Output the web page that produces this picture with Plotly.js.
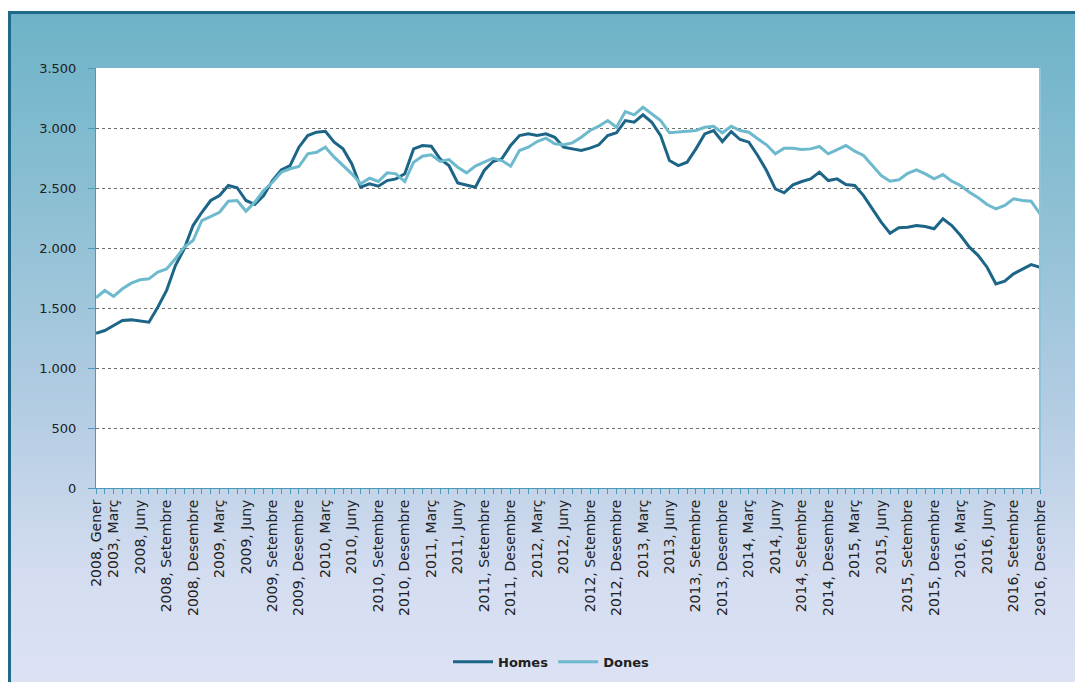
<!DOCTYPE html>
<html>
<head>
<meta charset="utf-8">
<script src="https://cdn.plot.ly/plotly-3.0.1.min.js"></script>
<style>
  html, body { margin: 0; padding: 0; background: #ffffff; }
  #frame {
    position: absolute; left: 8px; top: 11px; width: 1067px; height: 671px;
    box-sizing: border-box;
    border-top: 3px solid #1f6a8a; border-left: 3px solid #1f6a8a;
    background: linear-gradient(to bottom, #6db3c7 0%, #8fc0d4 30%, #b4cde3 60%, #d5ddf1 85%, #dce2f4 100%);
  }
  #chart { position: absolute; left: 0; top: 0; width: 1075px; height: 682px; }
</style>
</head>
<body>
<div id="frame"></div>
<div id="chart"></div>
<script>
const years = [2008, 2009, 2010, 2011, 2012, 2013, 2014, 2015, 2016];
const monthNames = ['Gener','Febrer','Març','Abril','Maig','Juny','Juliol','Agost','Setembre','Octubre','Novembre','Desembre'];
const categories = [];
years.forEach(y => monthNames.forEach(m => categories.push(y + ', ' + m)));

// Labels shown: first month, then every quarter-end month (Març, Juny, Setembre, Desembre)
const tickLabels = [
  '2008, Gener','2003, Març','2008, Juny','2008, Setembre','2008, Desembre',
  '2009, Març','2009, Juny','2009, Setembre','2009, Desembre',
  '2010, Març','2010, Juny','2010, Setembre','2010, Desembre',
  '2011, Març','2011, Juny','2011, Setembre','2011, Desembre',
  '2012, Març','2012, Juny','2012, Setembre','2012, Desembre',
  '2013, Març','2013, Juny','2013, Setembre','2013, Desembre',
  '2014, Març','2014, Juny','2014, Setembre','2014, Desembre',
  '2015, Març','2015, Juny','2015, Setembre','2015, Desembre',
  '2016, Març','2016, Juny','2016, Setembre','2016, Desembre'
];

const homes = [
  1290,1312,1354,1396,1401,1390,1382,1507,1646,1854,1993,2187,
  2298,2396,2437,2521,2502,2396,2362,2437,2562,2651,2687,2840,
  2937,2965,2973,2882,2826,2701,2507,2535,2515,2562,2576,2618,
  2826,2854,2848,2743,2687,2543,2526,2507,2646,2721,2743,2854,
  2937,2951,2937,2951,2923,2840,2826,2812,2832,2860,2937,2960,
  3062,3048,3110,3048,2937,2729,2687,2715,2826,2951,2979,2887,
  2970,2904,2882,2771,2646,2493,2460,2526,2554,2576,2632,2562,
  2576,2529,2521,2437,2326,2215,2123,2168,2173,2187,2179,2160,
  2243,2187,2104,2007,1937,1840,1701,1723,1785,1826,1862,1840
];

const dones = [
  1585,1646,1596,1660,1707,1735,1743,1799,1826,1910,2007,2062,
  2229,2262,2298,2390,2396,2307,2382,2479,2548,2632,2660,2679,
  2785,2798,2840,2757,2687,2618,2535,2582,2554,2626,2618,2554,
  2715,2765,2776,2721,2737,2673,2626,2682,2715,2748,2729,2682,
  2812,2840,2887,2915,2868,2860,2876,2923,2979,3015,3062,3006,
  3137,3110,3173,3118,3062,2960,2965,2970,2979,3006,3015,2960,
  3015,2979,2965,2910,2860,2785,2832,2832,2821,2826,2846,2785,
  2818,2854,2807,2771,2687,2604,2557,2568,2623,2651,2618,2576,
  2612,2557,2521,2465,2418,2362,2326,2354,2410,2396,2390,2285
];

const yTicks = [0, 500, 1000, 1500, 2000, 2500, 3000, 3500];

const tickText = categories.map((c, i) => {
  if (i === 0) return tickLabels[0];
  if (i % 3 === 2) return tickLabels[(i + 1) / 3];
  return '';
});

const axisColor = '#4a9bbb';
const fontFam = 'DejaVu Sans, Verdana, sans-serif';

const traces = [
  { x: categories, y: homes, type: 'scatter', mode: 'lines', name: 'Homes',
    line: { color: '#1d6587', width: 3 } },
  { x: categories, y: dones, type: 'scatter', mode: 'lines', name: 'Dones',
    line: { color: '#6db9cd', width: 3 } }
];

const layout = {
  width: 1075, height: 682,
  paper_bgcolor: 'rgba(0,0,0,0)',
  plot_bgcolor: '#ffffff',
  separators: ',.',
  margin: { l: 96, r: 35, t: 68, b: 194, autoexpand: false },
  font: { family: fontFam, size: 13, color: '#222222' },
  showlegend: true,
  legend: {
    orientation: 'h', x: 0.482, xanchor: 'center', y: -0.414, yanchor: 'middle',
    font: { family: fontFam, size: 13, color: '#222222', weight: 'bold' },
    bgcolor: 'rgba(0,0,0,0)', itemwidth: 40, traceorder: 'normal'
  },
  xaxis: {
    type: 'category',
    range: [0, categories.length - 1],
    tickmode: 'array', tickvals: categories, ticktext: tickText,
    tickangle: -90,
    ticklabeloverflow: 'allow',
    ticks: 'outside', ticklen: 5, tickcolor: axisColor, tickwidth: 1,
    showline: true, linecolor: axisColor, linewidth: 1,
    showgrid: false, zeroline: false,
    tickfont: { family: fontFam, size: 14, color: '#222222' },
    automargin: false
  },
  yaxis: {
    range: [0, 3500],
    tickmode: 'array', tickvals: yTicks, tickformat: ',d',
    ticks: 'outside', ticklen: 7, tickcolor: axisColor,
    ticklabelstandoff: 9,
    showline: true, linecolor: axisColor, linewidth: 1,
    showgrid: true, gridcolor: '#6e6e6e', griddash: 'dot', gridwidth: 1,
    zeroline: false,
    tickfont: { family: fontFam, size: 13, color: '#222222' },
    automargin: false
  },
  shapes: [
    { type: 'line', xref: 'paper', yref: 'paper', x0: 1, x1: 1, y0: 0, y1: 1,
      line: { color: '#8fc3da', width: 2 } }
  ]
};

Plotly.newPlot('chart', traces, layout, { displayModeBar: false, staticPlot: true });
</script>
</body>
</html>
